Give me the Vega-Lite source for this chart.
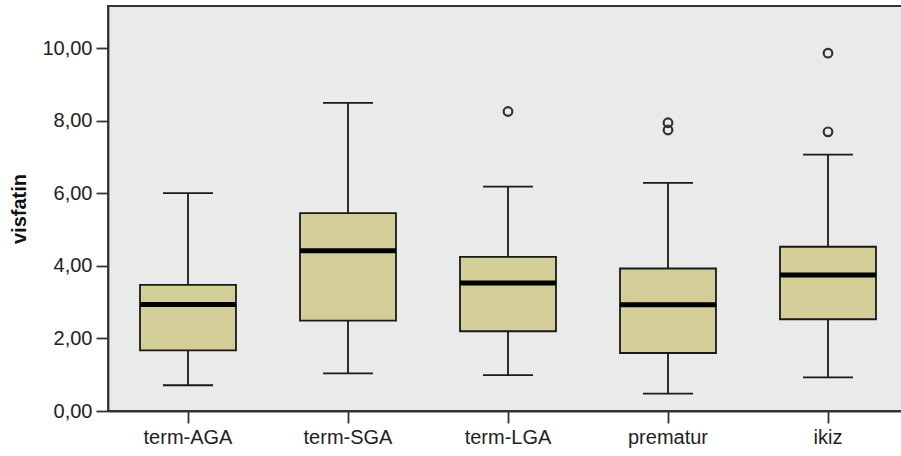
{
  "$schema": "https://vega.github.io/schema/vega-lite/v6.json",
  "width": 794,
  "height": 405,
  "autosize": {"type": "none"},
  "padding": {"left": 108, "top": 6, "right": 0, "bottom": 45},
  "background": "white",
  "config": {
    "font": "Liberation Sans",
    "view": {"fill": "#eaeaea", "stroke": "#333333", "strokeWidth": 1.8},
    "axis": {
      "domainColor": "#333333",
      "domainWidth": 1.8,
      "tickColor": "#333333",
      "tickWidth": 1.8,
      "tickSize": 12,
      "labelColor": "#222222",
      "labelFont": "Liberation Sans",
      "labelFontSize": 20,
      "grid": false,
      "titleFont": "Liberation Sans",
      "titleFontSize": 20,
      "titleFontWeight": "bold",
      "titleColor": "#111111"
    }
  },
  "datasets": {
    "boxes": [
      {"group": "term-AGA", "lower": 0.71, "q1": 1.67, "median": 2.94, "q3": 3.48, "upper": 6.01},
      {"group": "term-SGA", "lower": 1.04, "q1": 2.49, "median": 4.42, "q3": 5.46, "upper": 8.5},
      {"group": "term-LGA", "lower": 0.99, "q1": 2.2, "median": 3.53, "q3": 4.25, "upper": 6.19},
      {"group": "prematur", "lower": 0.48, "q1": 1.6, "median": 2.93, "q3": 3.93, "upper": 6.29},
      {"group": "ikiz", "lower": 0.93, "q1": 2.53, "median": 3.75, "q3": 4.53, "upper": 7.07}
    ],
    "outliers": [
      {"group": "term-LGA", "value": 8.26},
      {"group": "prematur", "value": 7.95},
      {"group": "prematur", "value": 7.75},
      {"group": "ikiz", "value": 9.87},
      {"group": "ikiz", "value": 7.7}
    ]
  },
  "encoding": {
    "x": {
      "field": "group",
      "type": "nominal",
      "sort": ["term-AGA", "term-SGA", "term-LGA", "prematur", "ikiz"],
      "scale": {"range": [0, 800], "paddingInner": 0, "paddingOuter": 0},
      "axis": {"title": null, "labelAngle": 0, "labelPadding": 4}
    }
  },
  "layer": [
    {
      "data": {"name": "boxes"},
      "mark": {"type": "rule", "color": "#1a1a1a", "strokeWidth": 1.8},
      "encoding": {
        "y": {
          "field": "lower",
          "type": "quantitative",
          "title": "visfatin",
          "scale": {"domain": [0, 11.17], "nice": false, "zero": true},
          "axis": {"values": [0, 2, 4, 6, 8, 10], "labelExpr": "replace(format(datum.value, '.2f'), '.', ',')", "labelPadding": 4, "titlePadding": 12}
        },
        "y2": {"field": "q1"}
      }
    },
    {
      "data": {"name": "boxes"},
      "mark": {"type": "rule", "color": "#1a1a1a", "strokeWidth": 1.8},
      "encoding": {
        "y": {"field": "q3", "type": "quantitative", "title": "visfatin"},
        "y2": {"field": "upper"}
      }
    },
    {
      "data": {"name": "boxes"},
      "mark": {"type": "bar", "size": 96, "fill": "#d3ce97", "stroke": "#1a1a1a", "strokeWidth": 1.8},
      "encoding": {
        "y": {"field": "q1", "type": "quantitative", "title": "visfatin"},
        "y2": {"field": "q3"}
      }
    },
    {
      "data": {"name": "boxes"},
      "mark": {"type": "tick", "size": 96, "thickness": 5, "color": "#000000", "opacity": 1},
      "encoding": {
        "y": {"field": "median", "type": "quantitative", "title": "visfatin"}
      }
    },
    {
      "data": {"name": "boxes"},
      "mark": {"type": "tick", "size": 50, "thickness": 1.8, "color": "#1a1a1a", "opacity": 1},
      "encoding": {
        "y": {"field": "lower", "type": "quantitative", "title": "visfatin"}
      }
    },
    {
      "data": {"name": "boxes"},
      "mark": {"type": "tick", "size": 50, "thickness": 1.8, "color": "#1a1a1a", "opacity": 1},
      "encoding": {
        "y": {"field": "upper", "type": "quantitative", "title": "visfatin"}
      }
    },
    {
      "data": {"name": "outliers"},
      "mark": {"type": "point", "shape": "circle", "filled": false, "size": 75, "strokeWidth": 2.2, "color": "#333333", "opacity": 1},
      "encoding": {
        "y": {"field": "value", "type": "quantitative", "title": "visfatin"}
      }
    }
  ]
}
